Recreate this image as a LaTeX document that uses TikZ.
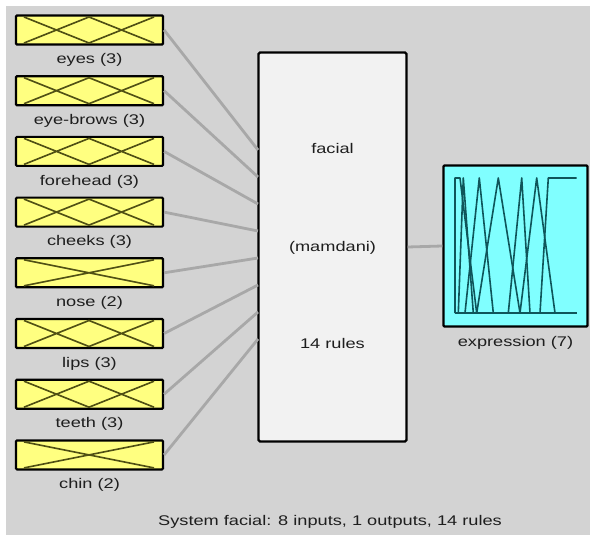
\documentclass[tikz,border=0pt]{standalone}
\usepackage{fontspec}
\setmainfont{Liberation Sans}
\usetikzlibrary{positioning, calc}
\definecolor{PanelGray}{RGB}{211,211,211}
\definecolor{MfYellow}{RGB}{255,255,128}
\definecolor{MfCyan}{RGB}{128,255,255}
\definecolor{RuleWhite}{RGB}{242,242,242}
\definecolor{LinkGray}{RGB}{168,168,168}
\definecolor{CurveOlive}{RGB}{80,80,20}
\definecolor{CurveTeal}{RGB}{15,85,90}
\definecolor{TextGray}{RGB}{30,30,30}

\begin{document}
\begin{tikzpicture}[x=1pt, y=-1pt, font=\fontsize{14}{16}\selectfont,
	var/.style={rectangle, draw=black, line width=2.2pt, rounded corners=1pt, fill=MfYellow, minimum width=147pt, minimum height=29pt, inner sep=0pt},
	sysbox/.style={rectangle, draw=black, line width=2.4pt, rounded corners=1.5pt, fill=RuleWhite, minimum width=148pt, minimum height=389pt, inner sep=0pt},
	outbox/.style={rectangle, draw=black, line width=2.2pt, rounded corners=1pt, fill=MfCyan, minimum width=144pt, minimum height=161pt, inner sep=0pt},
	lbl/.style={inner sep=0pt, text=TextGray, xscale=1.3},
	mf/.style={CurveOlive, line width=1.6pt},
	mfo/.style={CurveTeal, line width=1.6pt, line join=round},
	link/.style={LinkGray, line width=2.8pt}]

	\useasboundingbox (0,0) rectangle (590,535);
	\fill[white] (0,0) rectangle (590,535);
	\fill[PanelGray] (6,6) rectangle (590,535);

	% inputs (one row every 60.7px)
	\foreach \i/\name in {1/eyes (3), 2/eye-brows (3), 3/forehead (3), 4/cheeks (3), 5/nose (2), 6/lips (3), 7/teeth (3), 8/chin (2)}{
		\pgfmathsetmacro{\y}{30+60.7*(\i-1)}
		\pgfmathsetmacro{\yp}{150+27*(\i-1)}
		\node[var] (in\i) at (89.5,\y) {};
		\node[lbl] (l\i) at (89.5,\y+30) {\name};
		\coordinate (p\i) at (258,\yp);
	}
	% membership functions drawn inside the input boxes
	\foreach \i in {1,2,3,4,6,7}{
		\pgfmathsetmacro{\y}{30+60.7*(\i-1)}
		\draw[mf] (24,\y-13) -- (89,\y+13) (24,\y+13) -- (89,\y-13) -- (154,\y+13) (89,\y+13) -- (154,\y-13);
	}
	\foreach \i in {5,8}{
		\pgfmathsetmacro{\y}{30+60.7*(\i-1)}
		\draw[mf] (24,\y-13) -- (154,\y+13) (24,\y+13) -- (154,\y-13);
	}

	\node[sysbox] (sys) at (332.5,247) {};
	\node[lbl] (t1) at (332.5,148) {facial};
	\node[lbl] (t2) at (332.5,248) {(mamdani)};
	\node[lbl] (t3) at (332.5,343) {14 rules};

	\node[outbox] (out) at (515.5,246) {};
	\node[lbl] (lo) at (515.5,343) {expression (7)};
	\draw[mfo] (455,313) -- (455,178) -- (460,178) -- (476.7,313);
	\draw[mfo] (458.3,313) -- (463.3,178) -- (473.3,313);
	\draw[mfo] (465,313) -- (479.3,178) -- (493.3,313);
	\draw[mfo] (476.7,313) -- (498.3,178) -- (520,313);
	\draw[mfo] (508.3,313) -- (521.7,178) -- (530,313);
	\draw[mfo] (520,313) -- (536.7,178) -- (555,313);
	\draw[mfo] (540,313) -- (548.3,178) -- (576.7,178);
	\draw[mfo] (455,313) -- (576.7,313);

	\foreach \i in {1,...,8}{\draw[link] (in\i.east) -- (p\i);}
	\draw[link] (sys.east) -- (out.west);

	\node[lbl] (foot) at (330,522) {System facial: 8 inputs, 1 outputs, 14 rules};
\end{tikzpicture}
\end{document}
